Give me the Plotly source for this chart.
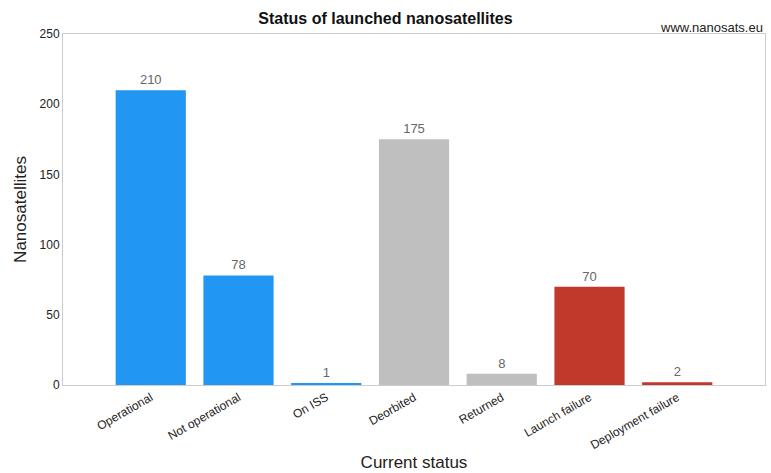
import plotly.graph_objects as go

# Launched nanosatellites by current status
statuses = ["Operational", "Not operational", "On ISS", "Deorbited",
            "Returned", "Launch failure", "Deployment failure"]
counts = [210, 78, 1, 175, 8, 70, 2]
bar_colors = ["#2196F3", "#2196F3", "#2196F3", "#BFBFBF",
              "#BFBFBF", "#C0392B", "#C0392B"]

fig = go.Figure(go.Bar(
    x=statuses,
    y=counts,
    marker=dict(color=bar_colors, line=dict(width=0)),
    width=0.8,
    text=[str(c) for c in counts],
    textposition="outside",
    textfont=dict(family="Liberation Sans, Arial", size=13, color="#666666"),
    cliponaxis=False,
))

fig.update_layout(
    width=771, height=473,
    margin=dict(l=63, r=6, t=34, b=88),
    paper_bgcolor="white",
    plot_bgcolor="white",
    font=dict(family="Liberation Sans, Arial", color="#222222"),
    title=dict(text="<b>Status of launched nanosatellites</b>",
               x=0.5, xanchor="center", y=0.962, yanchor="middle",
               font=dict(size=16, color="#111111")),
    showlegend=False,
    xaxis=dict(
        range=[-1, 7],
        tickangle=-30,
        ticks="",
        tickfont=dict(size=12, color="#222222"),
        showline=True, linecolor="#CCCCCC", linewidth=1, mirror=True,
        showgrid=False,
        title=dict(text="Current status", font=dict(size=17, color="#222222"),
                   standoff=4),
    ),
    yaxis=dict(
        range=[0, 250],
        tickvals=[0, 50, 100, 150, 200, 250],
        tickfont=dict(size=12, color="#222222"),
        ticks="",
        showline=True, linecolor="#CCCCCC", linewidth=1, mirror=True,
        showgrid=False,
        zeroline=False,
        title=dict(text="Nanosatellites", font=dict(size=17, color="#222222"),
                   standoff=8),
    ),
    annotations=[dict(
        text="www.nanosats.eu", xref="paper", yref="paper",
        x=1.0, y=1.0, xanchor="right", yanchor="bottom", yshift=-3,
        showarrow=False, font=dict(size=13, color="#222222"),
    )],
)

fig.write_html("out.html")
